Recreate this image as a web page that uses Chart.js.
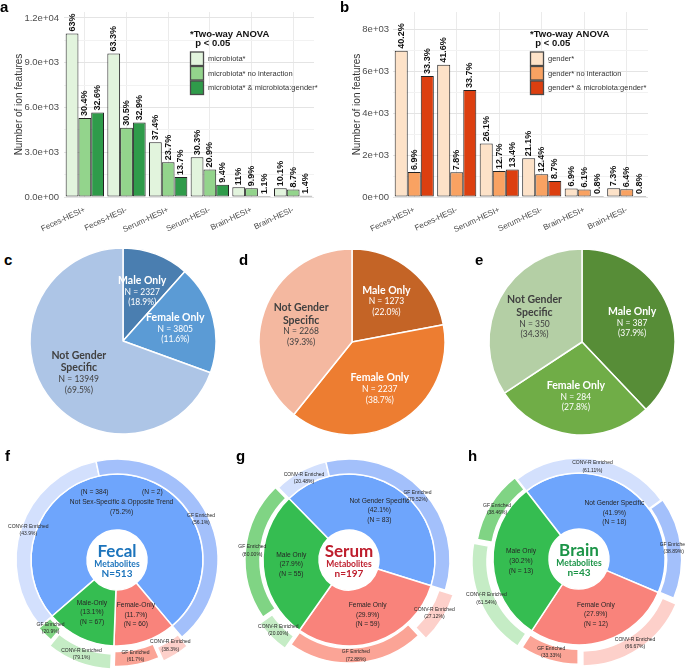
<!DOCTYPE html>
<html>
<head>
<meta charset="utf-8">
<script src="https://cdn.jsdelivr.net/npm/chart.js@4.4.1/dist/chart.umd.min.js"></script>
<style>
  body { margin: 0; background: #fff; }
  #fig { position: relative; width: 685px; height: 670px; overflow: hidden; background: #fff; }
  #fig canvas { position: absolute; }
  .tag { position: absolute; font: bold 15px "Liberation Sans", Arial, sans-serif; line-height: 15px; color: #000; }
</style>
</head>
<body>
<div id="fig">
  <canvas id="barA" width="340" height="240" style="left:0;top:0"></canvas>
  <canvas id="barB" width="345" height="240" style="left:340px;top:0"></canvas>
  <canvas id="pieC" width="194" height="194" style="left:26px;top:244px"></canvas>
  <canvas id="pieD" width="194" height="194" style="left:255px;top:245px"></canvas>
  <canvas id="pieE" width="194" height="194" style="left:485px;top:245px"></canvas>
  <canvas id="ringF" width="232" height="232" style="left:1px;top:444px"></canvas>
  <canvas id="ringG" width="232" height="232" style="left:233px;top:444px"></canvas>
  <canvas id="ringH" width="232" height="232" style="left:463px;top:443px"></canvas>
  <div class="tag" style="left:0;top:-1px">a</div>
  <div class="tag" style="left:340px;top:-1px">b</div>
  <div class="tag" style="left:4px;top:252px">c</div>
  <div class="tag" style="left:239px;top:252px">d</div>
  <div class="tag" style="left:475px;top:252px">e</div>
  <div class="tag" style="left:5px;top:448px">f</div>
  <div class="tag" style="left:236px;top:448px">g</div>
  <div class="tag" style="left:468px;top:448px">h</div>
</div>
<script>
// ---- panels a / b : ion features per sample ----
const samples = ['Feces-HESI+', 'Feces-HESI-', 'Serum-HESI+', 'Serum-HESI-', 'Brain-HESI+', 'Brain-HESI-'];

const microbiotaAll = [10960, 9620, 3670, 2660, 650, 580];
const microbiotaNoInt = [5290, 4640, 2325, 1835, 585, 500];
const microbiotaGender = [5670, 5000, 1344, 825, 65, 80];
const microbiotaAllPct = ['63%', '63.3%', '37.4%', '30.3%', '11%', '10.1%'];
const microbiotaNoIntPct = ['30.4%', '30.5%', '23.7%', '20.9%', '9.9%', '8.7%'];
const microbiotaGenderPct = ['32.6%', '32.9%', '13.7%', '9.4%', '1.1%', '1.4%'];
const yTicksA = [0, 3000, 6000, 9000, 12000];
const yTickLabelsA = ['0.0e+00', '3.0e+03', '6.0e+03', '9.0e+03', '1.2e+04'];

const genderAll = [6995, 6323, 2560, 1850, 407, 419];
const genderNoInt = [1200, 1186, 1246, 1090, 360, 367];
const genderMicro = [5794, 5122, 1315, 764, 47, 46];
const genderAllPct = ['40.2%', '41.6%', '26.1%', '21.1%', '6.9%', '7.3%'];
const genderNoIntPct = ['6.9%', '7.8%', '12.7%', '12.4%', '6.1%', '6.4%'];
const genderMicroPct = ['33.3%', '33.7%', '13.4%', '8.7%', '0.8%', '0.8%'];
const yTicksB = [0, 2000, 4000, 6000, 8000];
const yTickLabelsB = ['0e+00', '2e+03', '4e+03', '6e+03', '8e+03'];

// ---- panels c / d / e : gender specific features ----
const pieGroups = ['Male Only', 'Female Only', 'Not Gender Specific'];
const pieTitles = [['Male Only'], ['Female Only'], ['Not Gender', 'Specific']];
const fecesCounts = [2327, 3805, 13949];
const fecesPct = ['(18.9%)', '(11.6%)', '(69.5%)'];
const serumCounts = [1273, 2237, 2268];
const serumPct = ['(22.0%)', '(38.7%)', '(39.3%)'];
const brainCounts = [387, 284, 350];
const brainPct = ['(37.9%)', '(27.8%)', '(34.3%)'];

// ---- panels f / g / h : metabolites (order: not specific, female, male) ----
const fecalNames = ['Not Sex-Specific & Opposite Trend', 'Female-Only', 'Male-Only'];
const fecalCounts = [386, 60, 67];
const fecalPct = ['75.2%', '11.7%', '13.1%'];
const fecalConv = ['43.9%', '38.3%', '79.1%'];
const fecalGf = ['56.1%', '61.7%', '20.9%'];

const serumNames = ['Not Gender Specific', 'Female Only', 'Male Only'];
const serumMetCounts = [83, 59, 55];
const serumMetPct = ['42.1%', '29.9%', '27.9%'];
const serumConv = ['20.48%', '27.12%', '20.00%'];
const serumGf = ['79.52%', '72.88%', '80.00%'];

const brainNames = ['Not Gender Specific', 'Female Only', 'Male Only'];
const brainMetCounts = [18, 12, 13];
const brainMetPct = ['41.9%', '27.9%', '30.2%'];
const brainConv = ['61.11%', '66.67%', '61.54%'];
const brainGf = ['38.89%', '33.33%', '38.46%'];

Chart.defaults.font.family = '"Liberation Sans", Arial, sans-serif';

// rotated percentage labels above each bar
const barLabels = {
    id: 'barLabels',
    afterDatasetsDraw(chart) {
        const ctx = chart.ctx;
        ctx.save();
        ctx.font = 'bold 9px "Liberation Sans", Arial, sans-serif';
        ctx.fillStyle = '#111';
        ctx.textAlign = 'left';
        ctx.textBaseline = 'middle';
        chart.data.datasets.forEach((ds, i) => {
            chart.getDatasetMeta(i).data.forEach((bar, j) => {
                ctx.save();
                ctx.translate(bar.x, bar.y - 2);
                ctx.rotate(-Math.PI / 2);
                ctx.fillText(ds.pctLabels[j], 0, 0);
                ctx.restore();
            });
        });
        ctx.restore();
    }
};

// ggplot style legend inside the panel
const insetLegend = {
    id: 'insetLegend',
    afterDraw(chart, args, opts) {
        const ctx = chart.ctx;
        ctx.save();
        ctx.fillStyle = '#111';
        ctx.font = 'bold 9.5px "Liberation Sans", Arial, sans-serif';
        ctx.textBaseline = 'alphabetic';
        opts.title.forEach((line, k) => ctx.fillText(line, opts.x, opts.y + k * 9));
        chart.data.datasets.forEach((ds, i) => {
            const top = opts.y + 15 + i * 14.5;
            ctx.fillStyle = ds.backgroundColor;
            ctx.fillRect(opts.x + 0.5, top, 13, 13.5);
            ctx.strokeStyle = '#4a4a4a';
            ctx.lineWidth = 1.3;
            ctx.strokeRect(opts.x + 0.5, top, 13, 13.5);
            ctx.fillStyle = '#333';
            ctx.font = '7.5px "Liberation Sans", Arial, sans-serif';
            ctx.textBaseline = 'middle';
            ctx.fillText(ds.label, opts.x + 18, top + 7);
        });
        ctx.restore();
    }
};

function createBarPanel(id, cfg) {
    const minor = [];
    for (let k = 1; k < cfg.ticks.length; k++) minor.push((cfg.ticks[k - 1] + cfg.ticks[k]) / 2);
    const allTicks = cfg.ticks.concat(minor).sort((p, q) => p - q);
    const series = cfg.series.map((s, i) => ({
        label: s.label,
        data: s.data,
        pctLabels: s.pct,
        backgroundColor: cfg.colors[i],
        borderColor: '#222',
        borderWidth: 1,
        borderSkipped: false
    }));
    return new Chart(document.getElementById(id), {
        type: 'bar',
        data: { labels: samples, datasets: series },
        options: {
            responsive: false,
            animation: false,
            layout: { padding: { top: 12, right: cfg.padRight, bottom: 3, left: 0 } },
            datasets: { bar: { categoryPercentage: 0.92, barPercentage: 1 } },
            plugins: {
                legend: { display: false },
                tooltip: { enabled: false },
                insetLegend: { x: cfg.legendX, y: 37, title: ['*Two-way ANOVA', '  p < 0.05'] }
            },
            scales: {
                x: {
                    grid: { offset: false, color: '#ebebeb', drawTicks: false },
                    border: { display: false },
                    ticks: { autoSkip: false, minRotation: 25, maxRotation: 25, padding: 8,
                             font: { size: 8 }, color: '#4d4d4d' },
                    afterFit: s => { s.height = 40; }
                },
                y: {
                    min: 0,
                    max: cfg.max,
                    border: { display: false },
                    grid: {
                        drawTicks: false,
                        color: c => cfg.ticks.includes(c.tick.value) ? '#e4e4e4' : '#f2f2f2'
                    },
                    afterBuildTicks: s => { s.ticks = allTicks.map(v => ({ value: v })); },
                    afterFit: s => { s.width = cfg.axisWidth; },
                    ticks: {
                        padding: cfg.tickPad,
                        font: { size: 9.5 },
                        color: '#4d4d4d',
                        callback: v => {
                            const k = cfg.ticks.indexOf(v);
                            return k >= 0 ? cfg.tickLabels[k] : '';
                        }
                    },
                    title: {
                        display: true,
                        text: 'Number of ion features',
                        font: { size: 10 },
                        color: '#333',
                        padding: { top: cfg.titlePad, bottom: 0 }
                    }
                }
            }
        },
        plugins: [barLabels, insetLegend]
    });
}

createBarPanel('barA', {
    series: [
        { label: 'microbiota*', data: microbiotaAll, pct: microbiotaAllPct },
        { label: 'microbiota* no interaction', data: microbiotaNoInt, pct: microbiotaNoIntPct },
        { label: 'microbiota* & microbiota:gender*', data: microbiotaGender, pct: microbiotaGenderPct }
    ],
    colors: ['#e2f4dd', '#93d48c', '#2f9b4a'],
    ticks: yTicksA, tickLabels: yTickLabelsA, max: 12400,
    axisWidth: 64, tickPad: 5, titlePad: 13, padRight: 26, legendX: 190
});

createBarPanel('barB', {
    series: [
        { label: 'gender*', data: genderAll, pct: genderAllPct },
        { label: 'gender* no interaction', data: genderNoInt, pct: genderNoIntPct },
        { label: 'gender* & microbiota:gender*', data: genderMicro, pct: genderMicroPct }
    ],
    colors: ['#fde2c8', '#f9a262', '#dc3f10'],
    ticks: yTicksB, tickLabels: yTickLabelsB, max: 8850,
    axisWidth: 53, tickPad: 4, titlePad: 11, padRight: 37, legendX: 190
});

// text inside the pie slices
const pieLabels = {
    id: 'pieLabels',
    afterDatasetsDraw(chart, args, opts) {
        const ctx = chart.ctx;
        ctx.save();
        ctx.textAlign = 'center';
        ctx.textBaseline = 'middle';
        chart.getDatasetMeta(0).data.forEach((arc, i) => {
            const mid = (arc.startAngle + arc.endAngle) / 2;
            const r = arc.outerRadius * opts.radial;
            const cx = arc.x + Math.cos(mid) * r;
            const cy = arc.y + Math.sin(mid) * r;
            const titles = pieTitles[i];
            const details = ['N = ' + opts.counts[i], opts.pcts[i]];
            let y = cy - (titles.length * 12.5 + details.length * 10.5) / 2;
            ctx.fillStyle = opts.colors[i];
            ctx.font = 'bold 10.5px Lato, sans-serif';
            titles.forEach(t => { ctx.fillText(t, cx, y + 6.5); y += 12.5; });
            ctx.font = '8.5px Lato, sans-serif';
            details.forEach(t => { ctx.fillText(t, cx, y + 5.5); y += 10.5; });
        });
        ctx.restore();
    }
};

function createPie(id, counts, pcts, colors) {
    return new Chart(document.getElementById(id), {
        type: 'pie',
        data: {
            labels: pieGroups,
            datasets: [{ data: counts, backgroundColor: colors, borderColor: '#fff', borderWidth: 1.5 }]
        },
        options: {
            responsive: false,
            animation: false,
            radius: 93,
            plugins: {
                legend: { display: false },
                tooltip: { enabled: false },
                pieLabels: { radial: 0.58, counts: counts, pcts: pcts, colors: ['#fff', '#fff', '#404040'] }
            }
        },
        plugins: [pieLabels]
    });
}

createPie('pieC', fecesCounts, fecesPct, ['#4a7eb0', '#5b9bd5', '#adc5e6']);
createPie('pieD', serumCounts, serumPct, ['#c46426', '#ed7d31', '#f4b8a0']);
createPie('pieE', brainCounts, brainPct, ['#578d37', '#70ad47', '#b4cfa5']);

// labels on both rings of the sunburst charts
const ringLabels = {
    id: 'ringLabels',
    afterDatasetsDraw(chart) {
        const ctx = chart.ctx;
        ctx.save();
        ctx.textAlign = 'center';
        ctx.textBaseline = 'middle';
        ctx.fillStyle = '#262626';
        chart.data.datasets.forEach((ds, di) => {
            chart.getDatasetMeta(di).data.forEach((arc, i) => {
                const mid = (arc.startAngle + arc.endAngle) / 2;
                const push = (Array.isArray(ds.offset) ? ds.offset[i] : 0) * 0.3;
                const r = (arc.innerRadius + arc.outerRadius) / 2 + push;
                const cx = arc.x + Math.cos(mid) * r;
                const cy = arc.y + Math.sin(mid) * r;
                const lines = ds.texts[i];
                ctx.font = ds.fontSize + 'px "Liberation Sans", Arial, sans-serif';
                let y = cy - (lines.length - 1) * ds.lineHeight / 2;
                lines.forEach(t => { ctx.fillText(t, cx, y); y += ds.lineHeight; });
            });
        });
        ctx.restore();
    }
};

const centerText = {
    id: 'centerText',
    afterDraw(chart, args, opts) {
        const ctx = chart.ctx;
        const a = chart.chartArea;
        const cx = (a.left + a.right) / 2, cy = (a.top + a.bottom) / 2;
        ctx.save();
        ctx.textAlign = 'center';
        ctx.textBaseline = 'middle';
        ctx.fillStyle = opts.color;
        ctx.font = 'bold 17px Lato, sans-serif';
        ctx.fillText(opts.title, cx, cy - 8);
        ctx.font = 'bold 8.5px Lato, sans-serif';
        ctx.fillText('Metabolites', cx, cy + 4);
        ctx.font = 'bold 10px Lato, sans-serif';
        ctx.fillText(opts.total, cx, cy + 14);
        ctx.restore();
    }
};

const innerColors = ['#6ea5fc', '#f9837b', '#35bd51'];
const outerColors = ['#d3e0fd', '#a3c0fb', '#fdd0ca', '#fba496', '#c5ecc5', '#80d484'];

function createSunburst(id, cfg) {
    const outerData = [], outerTexts = [];
    cfg.counts.forEach((n, i) => {
        outerData.push(n * parseFloat(cfg.conv[i]) / 100, n * parseFloat(cfg.gf[i]) / 100);
        outerTexts.push(['CONV-R Enriched', '(' + cfg.conv[i] + ')'], ['GF Enriched', '(' + cfg.gf[i] + ')']);
    });
    return new Chart(document.getElementById(id), {
        type: 'doughnut',
        data: {
            labels: outerTexts.map(t => t[0]),
            datasets: [
                { data: outerData, backgroundColor: outerColors, borderColor: '#fff', borderWidth: 1.5,
                  weight: 15, offset: cfg.offsets, texts: outerTexts, fontSize: 5, lineHeight: 7.5 },
                { data: cfg.counts, backgroundColor: innerColors, borderColor: '#fff', borderWidth: 1.5,
                  weight: 56, texts: cfg.innerTexts, fontSize: 6.7, lineHeight: 9.6 }
            ]
        },
        options: {
            responsive: false,
            animation: false,
            radius: 101,
            cutout: '29.7%',
            rotation: cfg.rotation,
            plugins: {
                legend: { display: false },
                tooltip: { enabled: false },
                centerText: { title: cfg.title, total: cfg.total, color: cfg.color }
            }
        },
        plugins: [ringLabels, centerText]
    });
}

createSunburst('ringF', {
    counts: fecalCounts, conv: fecalConv, gf: fecalGf, rotation: -130.9,
    offsets: [0, 0, 24, 14, 24, 6],
    innerTexts: [
        ['(N = 384)                  (N = 2)', fecalNames[0], '(' + fecalPct[0] + ')'],
        [fecalNames[1], '(' + fecalPct[1] + ')', '(N = 60)'],
        [fecalNames[2], '(' + fecalPct[2] + ')', '(N = 67)']
    ],
    title: 'Fecal', total: 'N=513', color: '#1c74bc'
});

createSunburst('ringG', {
    counts: serumMetCounts, conv: serumConv, gf: serumGf, rotation: -44.3,
    offsets: [0, 0, 24, 8, 20, 12],
    innerTexts: serumNames.map((nm, i) => [nm, '(' + serumMetPct[i] + ')', '(N = ' + serumMetCounts[i] + ')']),
    title: 'Serum', total: 'n=197', color: '#be1e2d'
});

createSunburst('ringH', {
    counts: brainMetCounts, conv: brainConv, gf: brainGf, rotation: -37.8,
    offsets: [0, 6, 26, 12, 24, 8],
    innerTexts: brainNames.map((nm, i) => [nm, '(' + brainMetPct[i] + ')', '(N = ' + brainMetCounts[i] + ')']),
    title: 'Brain', total: 'n=43', color: '#1b9447'
});
</script>
</body>
</html>
